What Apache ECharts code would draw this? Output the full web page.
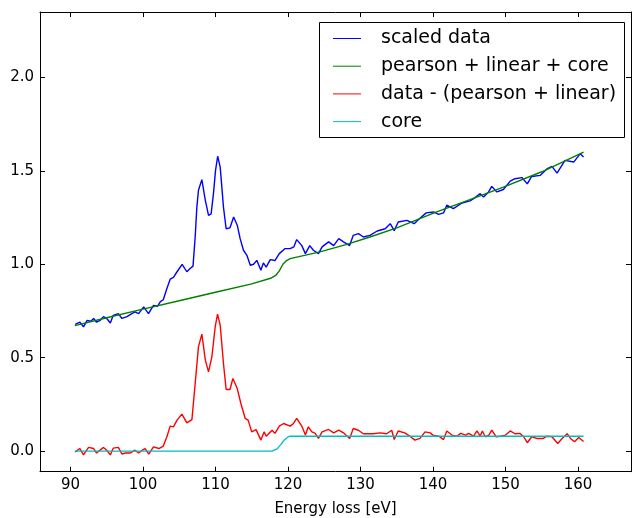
<!DOCTYPE html>
<html>
<head>
<meta charset="utf-8">
<script src="https://cdn.jsdelivr.net/npm/echarts@6/dist/echarts.min.js"></script>
<style>html,body{margin:0;padding:0;background:#fff;}#c{width:632px;height:518px;}</style>
</head>
<body>
<div id="c"></div>
<script>
const seriesNames = ['scaled data', 'pearson + linear + core', 'data - (pearson + linear)', 'core'];
const xTickLabels = ['90', '100', '110', '120', '130', '140', '150', '160'];
const yTickLabels = ['0.0', '0.5', '1.0', '1.5', '2.0'];

const blueX = [90.65,91.3,91.8,92.3,92.8,93.2,93.6,94.1,94.55,95.0,95.5,95.9,96.6,97.1,97.8,98.4,98.9,99.4,100.1,100.76,101.45,102.0,102.4,102.8,103.3,103.75,104.2,104.7,105.4,106.05,106.5,106.9,107.2,107.43,107.65,108.12,108.6,109.04,109.4,109.72,110.0,110.3,110.65,111.1,111.47,112.0,112.5,113.0,113.4,113.86,114.33,114.8,115.25,115.7,116.26,116.6,117.0,117.55,118.2,118.8,119.6,120.3,120.8,121.2,121.9,122.4,123.0,123.5,124.2,124.7,125.6,126.3,127.0,127.65,128.5,129.0,129.7,130.4,131.3,132.3,133.4,134.1,134.65,135.2,136.4,137.4,138.0,139.06,140.07,140.76,141.45,141.9,142.8,144.0,145.1,145.8,146.5,146.97,147.66,148.1,148.8,149.7,150.65,151.3,152.26,153.0,153.6,154.8,155.7,156.4,157.1,158.2,159.4,160.3,160.76];
const blueY = [0.678,0.69,0.665,0.70,0.695,0.71,0.69,0.70,0.72,0.71,0.686,0.727,0.736,0.71,0.72,0.735,0.745,0.736,0.772,0.736,0.78,0.775,0.80,0.81,0.87,0.92,0.93,0.96,1.00,0.96,0.977,0.99,1.146,1.306,1.396,1.453,1.342,1.262,1.27,1.378,1.50,1.578,1.52,1.306,1.19,1.195,1.253,1.209,1.137,1.075,1.048,0.995,1.0,1.021,0.968,1.007,0.985,1.025,1.02,1.057,1.084,1.084,1.093,1.132,1.10,1.057,1.10,1.075,1.057,1.093,1.12,1.10,1.137,1.12,1.10,1.155,1.164,1.146,1.155,1.178,1.19,1.217,1.18,1.226,1.235,1.217,1.24,1.275,1.28,1.267,1.275,1.316,1.298,1.328,1.339,1.357,1.378,1.36,1.387,1.417,1.387,1.40,1.445,1.458,1.464,1.43,1.47,1.476,1.51,1.524,1.488,1.556,1.547,1.592,1.574];

const greenX = [90.6,95,100,105,110,115,117.6,118.3,118.8,119.3,119.8,120.3,124.4,128,131.3,135,140.5,145,149.7,155,160.76];
const greenY = [0.672,0.714,0.76,0.805,0.85,0.895,0.925,0.94,0.965,1.0,1.02,1.03,1.066,1.105,1.146,1.195,1.28,1.345,1.413,1.495,1.60];

const redX = [90.65,91.3,91.8,92.5,93.2,93.6,94.55,95.0,95.5,95.9,96.6,97.1,97.6,98.2,98.9,99.4,99.9,100.3,100.8,101.45,102.2,102.8,103.3,103.75,104.2,104.7,105.37,106.05,106.75,107.2,107.65,108.12,108.6,109.04,109.5,109.96,110.28,110.65,111.1,111.47,112.0,112.4,113.0,113.5,114.1,114.5,115.0,115.6,116.26,116.7,117.0,117.8,118.2,118.8,119.4,120.3,120.76,121.2,121.9,122.4,122.8,123.3,123.75,124.2,124.7,125.6,126.3,127.0,127.65,128.5,129.0,129.7,130.4,131.7,132.7,133.6,134.3,134.65,135.2,136.1,136.8,137.5,138.2,138.9,139.6,140.0,140.8,141.45,141.9,142.6,143.3,143.8,144.5,144.9,145.6,146.05,146.5,146.8,147.2,147.7,148.1,148.7,149.27,150.0,150.65,151.3,152.0,152.5,153.0,153.6,154.3,155.2,155.7,156.4,157.2,157.8,158.5,158.95,159.5,160.1,160.76];
const redY = [-0.004,0.014,-0.02,0.02,0.014,-0.01,0.02,0.005,-0.02,0.016,0.02,-0.015,-0.01,-0.01,0.005,-0.01,0.005,0.014,-0.016,0.023,0.014,0.027,0.077,0.134,0.13,0.166,0.198,0.151,0.169,0.362,0.558,0.626,0.487,0.424,0.504,0.665,0.733,0.674,0.469,0.33,0.33,0.389,0.335,0.255,0.175,0.166,0.103,0.115,0.059,0.103,0.08,0.112,0.095,0.134,0.148,0.134,0.148,0.175,0.134,0.086,0.13,0.103,0.095,0.068,0.103,0.116,0.098,0.112,0.098,0.068,0.121,0.112,0.093,0.093,0.098,0.093,0.112,0.062,0.108,0.098,0.08,0.059,0.068,0.103,0.098,0.086,0.08,0.062,0.108,0.086,0.08,0.095,0.086,0.095,0.08,0.108,0.08,0.108,0.077,0.086,0.112,0.077,0.08,0.086,0.108,0.093,0.095,0.077,0.045,0.077,0.068,0.068,0.08,0.077,0.041,0.068,0.093,0.068,0.05,0.073,0.052];

const cyanX = [90.6,117.8,118.5,119.0,119.5,120.0,120.3,160.76];
const cyanY = [0,0,0.012,0.035,0.06,0.076,0.08,0.08];

const colors = ['#0000ff', '#008000', '#ff0000', '#00bfbf'];

function zip(xs, ys) { return xs.map((x, i) => [x, ys[i]]); }

const FONT = 'DejaVu Sans';
const X_MIN = 85.8, X_MAX = 167.3, Y_MIN = -0.11, Y_MAX = 2.35;

const chart = echarts.init(document.getElementById('c'), null, {renderer: 'canvas'});

const xBase = {
  type: 'value', min: X_MIN, max: X_MAX, minInterval: 10, maxInterval: 10,
  splitLine: {show: false},
  axisLine: {show: true, onZero: false, lineStyle: {color: '#000', width: 1}},
  axisTick: {show: true, inside: true, length: 5, lineStyle: {color: '#000'}}
};
const yBase = {
  type: 'value', min: Y_MIN, max: Y_MAX, minInterval: 0.5, maxInterval: 0.5,
  splitLine: {show: false},
  axisLine: {show: true, onZero: false, lineStyle: {color: '#000', width: 1}},
  axisTick: {show: true, inside: true, length: 5, lineStyle: {color: '#000'}}
};

function lineSeries(i, xs, ys) {
  return {
    name: seriesNames[i], type: 'line', data: zip(xs, ys),
    symbol: 'none', showSymbol: false, smooth: false,
    lineStyle: {color: colors[i], width: 1.4},
    itemStyle: {color: colors[i]},
    xAxisIndex: 0, yAxisIndex: 0, animation: false
  };
}

chart.setOption({
  animation: false,
  backgroundColor: '#fff',
  textStyle: {fontFamily: FONT},
  grid: {left: 40, top: 12, width: 591, height: 459.7, containLabel: false, outerBoundsMode: 'none'},
  xAxis: [
    Object.assign({}, xBase, {
      position: 'bottom',
      name: 'Energy loss [eV]', nameLocation: 'middle', nameGap: 30,
      nameTextStyle: {fontFamily: FONT, fontSize: 15, color: '#000'},
      axisLabel: {show: true, margin: 6, fontFamily: FONT, fontSize: 15, color: '#000',
        showMinLabel: false, showMaxLabel: false,
        formatter: v => { const s = String(Math.round(v)); return (Math.abs(v % 10) < 1e-6 && xTickLabels.includes(s)) ? s : ''; }}
    }),
    Object.assign({}, xBase, {position: 'top', axisLabel: {show: false}})
  ],
  yAxis: [
    Object.assign({}, yBase, {
      position: 'left',
      axisLabel: {show: true, margin: 6, fontFamily: FONT, fontSize: 15, color: '#000',
        showMinLabel: false, showMaxLabel: false,
        formatter: v => { const s = v.toFixed(1); return yTickLabels.includes(s) && Math.abs(v*2 - Math.round(v*2)) < 1e-6 ? s : ''; }}
    }),
    Object.assign({}, yBase, {position: 'right', axisLabel: {show: false}})
  ],
  graphic: [{
    type: 'rect', z: 50,
    shape: {x: 319.5, y: 22.5, width: 305, height: 115},
    style: {fill: '#fff', stroke: '#000', lineWidth: 1}
  }],
  legend: {
    show: true, z: 60, orient: 'vertical', left: 333, top: 28.5, padding: 0,
    itemWidth: 28, itemHeight: 20, itemGap: 7.7,
    data: seriesNames.map((n, i) => ({name: n, icon: 'path://M0,0L28,0L28,1L0,1Z', itemStyle: {color: colors[i]}})),
    textStyle: {fontFamily: FONT, fontSize: 19, color: '#000', padding: [0, 0, 0, 15], lineHeight: 20},
    selectedMode: false
  },
  series: [
    lineSeries(0, blueX, blueY),
    lineSeries(1, greenX, greenY),
    lineSeries(2, redX, redY),
    lineSeries(3, cyanX, cyanY)
  ]
});
</script>
</body>
</html>
